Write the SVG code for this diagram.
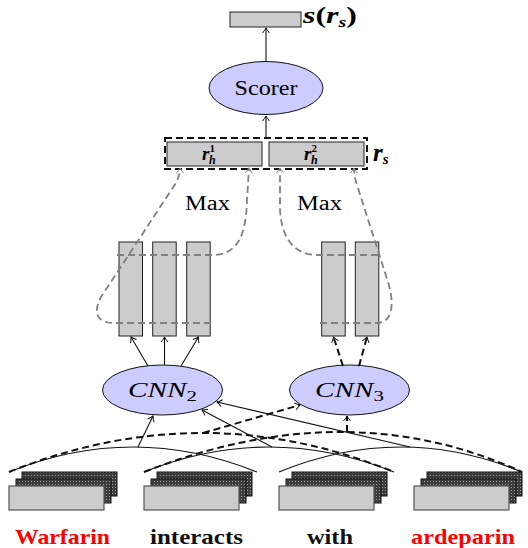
<svg xmlns="http://www.w3.org/2000/svg" width="528" height="548" viewBox="0 0 528 548">
<style>
.serif{font-family:"Liberation Serif","DejaVu Serif",serif;}
.box{fill:#cccccc;stroke:#222;stroke-width:1;}
.ell{fill:#ccccff;stroke:#111;stroke-width:1;}
.ln{fill:none;stroke:#111;stroke-width:1.1;}
.dl{fill:none;stroke:#111;stroke-width:2;stroke-dasharray:7,4;}
.gd{fill:none;stroke:#808080;stroke-width:1.8;stroke-dasharray:7,4;}
.back{fill:url(#dots);stroke:#111;stroke-width:1;}
.front{fill:#cccccc;stroke:#555;stroke-width:1.2;}
.word{font-family:"Liberation Serif","DejaVu Serif",serif;font-weight:bold;font-size:22px;text-anchor:middle;}
</style>
<defs>
<pattern id="dots" width="3" height="3" patternUnits="userSpaceOnUse">
<rect width="3" height="3" fill="#3c3c3c"/>
<rect x="1" y="1" width="1" height="1" fill="#9a9a9a"/>
</pattern>
<marker id="ah" viewBox="-6 -5 8 10" markerWidth="8" markerHeight="10" refX="0" refY="0" orient="auto" markerUnits="userSpaceOnUse">
<path d="M -5 -3.5 Q -2 -1 0 0 Q -2 1 -5 3.5" fill="none" stroke="#111" stroke-width="1"/>
</marker>
<marker id="ahg" viewBox="-6 -5 8 10" markerWidth="8" markerHeight="10" refX="0" refY="0" orient="auto" markerUnits="userSpaceOnUse">
<path d="M -5 -3.5 Q -2 -1 0 0 Q -2 1 -5 3.5" fill="none" stroke="#808080" stroke-width="1"/>
</marker>
<g id="stack">
<rect class="back" x="13" y="-14" width="95" height="24"/>
<rect class="back" x="7" y="-7" width="95" height="24"/>
<rect class="front" x="0" y="0" width="95" height="24"/>
</g>
</defs>

<g id="output">
<rect class="box" x="230" y="12" width="71" height="15"/>
<text class="serif" x="303" y="23" font-size="24" font-weight="bold" font-style="italic" textLength="54" lengthAdjust="spacingAndGlyphs">s<tspan font-style="normal">(</tspan>r<tspan font-size="15" dy="4">s</tspan><tspan font-style="normal" dy="-4">)</tspan></text>
</g>

<g id="scorer">
<ellipse class="ell" cx="266" cy="88" rx="57" ry="26.5"/>
<text class="serif" x="266" y="95" font-size="21" text-anchor="middle" textLength="63" lengthAdjust="spacingAndGlyphs">Scorer</text>
</g>

<g id="rs">
<rect class="box" x="167" y="142" width="95" height="24"/>
<rect class="box" x="269" y="142" width="95" height="24"/>
<rect x="165" y="138" width="202" height="31" fill="none" stroke="#111" stroke-width="2" stroke-dasharray="7,4"/>
<text class="serif" x="202" y="160" font-size="19" font-weight="bold" font-style="italic">r<tspan font-size="11" font-style="normal" dy="-8">1</tspan><tspan font-size="12" dx="-6" dy="12">h</tspan></text>
<text class="serif" x="304" y="160" font-size="19" font-weight="bold" font-style="italic">r<tspan font-size="11" font-style="normal" dy="-8">2</tspan><tspan font-size="12" dx="-6" dy="12">h</tspan></text>
<text class="serif" x="373" y="161" font-size="25" font-weight="bold" font-style="italic">r<tspan font-size="15" dy="3">s</tspan></text>
</g>

<g id="max-labels">
<text class="serif" x="185" y="210" font-size="20" textLength="45" lengthAdjust="spacingAndGlyphs">Max</text>
<text class="serif" x="297" y="210" font-size="20" textLength="45" lengthAdjust="spacingAndGlyphs">Max</text>
</g>

<g id="cnn2-columns">
<rect class="box" x="119" y="242" width="23.5" height="94"/>
<rect class="box" x="152.7" y="242" width="23.5" height="94"/>
<rect class="box" x="186.7" y="242" width="23.5" height="94"/>
</g>
<g id="cnn3-columns">
<rect class="box" x="321.7" y="242" width="23.5" height="94"/>
<rect class="box" x="355.3" y="242" width="23.5" height="94"/>
</g>

<g id="cnn2">
<ellipse class="ell" cx="162.5" cy="390" rx="60" ry="25"/>
<text class="serif" x="128" y="397" font-size="21" font-style="italic" textLength="69" lengthAdjust="spacingAndGlyphs">CNN<tspan font-size="15" font-style="normal" dy="4">2</tspan></text>
</g>
<g id="cnn3">
<ellipse class="ell" cx="349.5" cy="390" rx="60" ry="25"/>
<text class="serif" x="315" y="397" font-size="21" font-style="italic" textLength="69" lengthAdjust="spacingAndGlyphs">CNN<tspan font-size="15" font-style="normal" dy="4">3</tspan></text>
</g>

<g id="word-warfarin">
<use href="#stack" x="9" y="486"/>
<text class="word" x="62.5" y="544" fill="#ff0000" textLength="95" lengthAdjust="spacingAndGlyphs">Warfarin</text>
</g>
<g id="word-interacts">
<use href="#stack" x="144" y="486"/>
<text class="word" x="196.5" y="544" fill="#111" textLength="93" lengthAdjust="spacingAndGlyphs">interacts</text>
</g>
<g id="word-with">
<use href="#stack" x="279" y="486"/>
<text class="word" x="330" y="544" fill="#111" textLength="46" lengthAdjust="spacingAndGlyphs">with</text>
</g>
<g id="word-ardeparin">
<use href="#stack" x="414" y="486"/>
<text class="word" x="463" y="544" fill="#ff0000" textLength="104" lengthAdjust="spacingAndGlyphs">ardeparin</text>
</g>

<g id="connectors">
<line class="ln" x1="266" y1="61" x2="266" y2="28" marker-end="url(#ah)"/>
<line class="ln" x1="266" y1="138" x2="266" y2="116" marker-end="url(#ah)"/>
<line class="ln" x1="148" y1="366" x2="131" y2="337" marker-end="url(#ah)"/>
<line class="ln" x1="164.5" y1="365" x2="164.5" y2="337" marker-end="url(#ah)"/>
<line class="ln" x1="181" y1="366" x2="198.5" y2="337" marker-end="url(#ah)"/>
<line class="dl" x1="343" y1="366" x2="333.5" y2="337" marker-end="url(#ah)"/>
<line class="dl" x1="359" y1="366" x2="367" y2="337" marker-end="url(#ah)"/>
<path class="gd" d="M 211 323 H 114 C 96 323 93 312 101 297 L 170 192 C 177 182 180 176 180 168" marker-end="url(#ahg)"/>
<path class="gd" d="M 117 255 H 212 C 238 255 246 235 247 200 L 249 168" marker-end="url(#ahg)"/>
<path class="gd" d="M 378 255 H 318 C 295 255 282 240 280 210 L 280 168" marker-end="url(#ahg)"/>
<path class="gd" d="M 320 323 H 378 C 392 322 395 305 388 282 L 358 188 C 355 180 354 174 354 168" marker-end="url(#ahg)"/>
<path class="ln" d="M 9 472 Q 133 422 257 472"/>
<path class="ln" d="M 144 472 Q 269 422 394 472"/>
<path class="ln" d="M 279 472 Q 401 422 522 472"/>
<path class="dl" d="M 9 472 Q 203 394 394 472"/>
<path class="dl" d="M 144 472 Q 347 392 522 472"/>
<line class="ln" x1="138" y1="447" x2="153" y2="416" marker-end="url(#ah)"/>
<line class="ln" x1="272" y1="447" x2="202" y2="410" marker-end="url(#ah)"/>
<line class="ln" x1="410" y1="447" x2="217" y2="402" marker-end="url(#ah)"/>
<line class="dl" x1="203" y1="433" x2="300" y2="405" marker-end="url(#ah)"/>
<line class="dl" x1="347" y1="432" x2="347" y2="416" marker-end="url(#ah)"/>
</g>
</svg>
